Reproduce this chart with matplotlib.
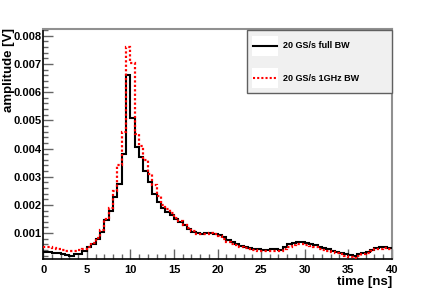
import numpy as np
import matplotlib
matplotlib.use('Agg')
from matplotlib import pyplot as plt
from matplotlib.patches import Rectangle
from matplotlib.lines import Line2D
from matplotlib.ticker import MultipleLocator, FormatStrFormatter

plt.rcParams['font.family'] = 'Liberation Sans'
plt.rcParams['font.weight'] = 'bold'

# 0.5 ns bins from 0 to 40 ns
edges = np.arange(0, 40.01, 0.5)

full_bw = [0.00034, 0.00032, 0.00030, 0.00028, 0.00025, 0.00022, 0.00019, 0.00024,
           0.00027, 0.00036, 0.00050, 0.00062, 0.00080, 0.00105, 0.00145, 0.00180,
           0.00228, 0.00275, 0.00380, 0.00662, 0.00510, 0.00405, 0.00370, 0.00320,
           0.00280, 0.00240, 0.00210, 0.00190, 0.00175, 0.00164, 0.00150, 0.00140,
           0.00128, 0.00115, 0.00105, 0.00100, 0.00098, 0.00100, 0.00102, 0.00098,
           0.00092, 0.00085, 0.00075, 0.00068, 0.00062, 0.00055, 0.00050, 0.00047,
           0.00045, 0.00043, 0.00040, 0.00040, 0.00042, 0.00042, 0.00040, 0.00052,
           0.00060, 0.00066, 0.00068, 0.00070, 0.00066, 0.00062, 0.00056, 0.00052,
           0.00048, 0.00042, 0.00038, 0.00034, 0.00030, 0.00026, 0.00022, 0.00018,
           0.00026, 0.00030, 0.00034, 0.00040, 0.00046, 0.00050, 0.00050, 0.00046]

bw_1ghz = [0.00052, 0.00050, 0.00047, 0.00044, 0.00041, 0.00037, 0.00035, 0.00037,
           0.00040, 0.00044, 0.00052, 0.00064, 0.00082, 0.00110, 0.00150, 0.00190,
           0.00250, 0.00340, 0.00460, 0.00760, 0.00703, 0.00452, 0.00410, 0.00360,
           0.00310, 0.00270, 0.00230, 0.00200, 0.00185, 0.00170, 0.00155, 0.00142,
           0.00130, 0.00117, 0.00106, 0.00098, 0.00095, 0.00098, 0.00100, 0.00095,
           0.00088, 0.00078, 0.00068, 0.00062, 0.00057, 0.00050, 0.00046, 0.00043,
           0.00041, 0.00038, 0.00035, 0.00036, 0.00038, 0.00038, 0.00036, 0.00044,
           0.00052, 0.00058, 0.00060, 0.00060, 0.00058, 0.00054, 0.00050, 0.00044,
           0.00040, 0.00036, 0.00032, 0.00028, 0.00024, 0.00020, 0.00016, 0.00013,
           0.00018, 0.00024, 0.00030, 0.00036, 0.00042, 0.00045, 0.00046, 0.00042]

labels = ['20 GS/s full BW', '20 GS/s 1GHz BW']

fig = plt.figure(figsize=(4.36, 2.89), dpi=100)
W, H = 436., 289.
ax = fig.add_axes([43.3/W, 1-259/H, (391.7-43.3)/W, (259-29)/H])

ax.stairs(full_bw, edges, baseline=None, color='k', lw=1.5, zorder=3)
ax.stairs(bw_1ghz, edges, baseline=None, color='#ff0000', lw=1.6,
          linestyle=(0, (1, 1)), zorder=4)

ax.set_xlim(0, 40)
ax.set_ylim(0.00008, 0.00824)

ax.xaxis.set_major_locator(MultipleLocator(5))
ax.xaxis.set_minor_locator(MultipleLocator(1))
ax.yaxis.set_major_locator(MultipleLocator(0.001))
ax.yaxis.set_minor_locator(MultipleLocator(0.0002))
ax.yaxis.set_major_formatter(FormatStrFormatter('%.3f'))
ax.set_yticks([0.001*i for i in range(1, 9)])

ax.tick_params(which='both', direction='in', top=False, right=False,
               color='#666666', labelsize=8)
ax.tick_params(which='major', length=7, width=1)
ax.tick_params(which='minor', length=3.5, width=1)
ax.tick_params(axis='y', pad=1)
ax.tick_params(axis='x', pad=4)
for t in ax.get_xticklabels() + ax.get_yticklabels():
    t.set_fontweight('bold')

for s in ['left', 'bottom']:
    ax.spines[s].set_color('k')
    ax.spines[s].set_linewidth(1.2)
for s in ['top', 'right']:
    ax.spines[s].set_color('#909090')
    ax.spines[s].set_linewidth(1.5)

fig.text(3/W, 1-28/H, 'amplitude [V]', rotation=90, ha='left', va='top',
         fontsize=9.5, fontweight='bold')
fig.text(392.5/W, 1-288/H, 'time [ns]', ha='right', va='bottom',
         fontsize=9.5, fontweight='bold')

# legend box
fig.patches.append(Rectangle((247.3/W, 1-92.7/H), (391.7-247.3)/W, (92.7-30)/H,
                             transform=fig.transFigure, facecolor='#f0f0f0',
                             edgecolor='#606060', lw=1, zorder=10))
for i, (lab, col, ls) in enumerate(zip(labels, ['k', '#ff0000'], ['-', (0, (1, 1))])):
    yc = [45.7, 78.3][i]
    fig.patches.append(Rectangle((252/W, 1-(yc+10)/H), 26/W, 20/H,
                                 transform=fig.transFigure, facecolor='white',
                                 edgecolor='none', zorder=11))
    fig.lines.append(Line2D([253/W, 277/W], [1-yc/H, 1-yc/H], transform=fig.transFigure,
                            color=col, lw=1.5, linestyle=ls, zorder=12))
    fig.text(282.7/W, 1-yc/H, lab, ha='left', va='center', fontsize=6.5,
             fontweight='bold', zorder=12)

plt.savefig('out.png', dpi=100)
